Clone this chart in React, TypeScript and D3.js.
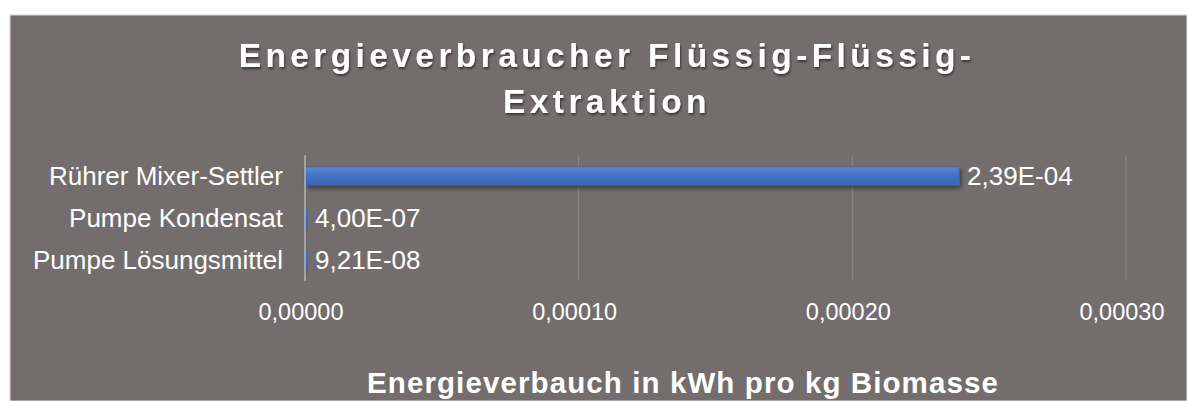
import { useEffect, useRef } from 'react';
import * as d3 from 'd3';

const categories = ['Rührer Mixer-Settler', 'Pumpe Kondensat', 'Pumpe Lösungsmittel'];
const values = [2.39e-4, 4.0e-7, 9.21e-8];
const valueLabels = ['2,39E-04', '4,00E-07', '9,21E-08'];
const tickValues = [0, 0.0001, 0.0002, 0.0003];
const tickLabels = ['0,00000', '0,00010', '0,00020', '0,00030'];
const titleLines = ['Energieverbraucher Flüssig-Flüssig-', 'Extraktion'];
const axisTitle = 'Energieverbauch in kWh pro kg Biomasse';

const W = 1187;
const H = 401;

function App() {
  const svgRef = useRef<SVGSVGElement>(null);

  useEffect(() => {
    const root = d3.select(svgRef.current);
    root.selectAll('*').remove();

    const defs = root.append('defs');
    const grad = defs
      .append('linearGradient')
      .attr('id', 'barGrad')
      .attr('x1', 0)
      .attr('y1', 0)
      .attr('x2', 0)
      .attr('y2', 1);
    grad.append('stop').attr('offset', '0%').attr('stop-color', '#5a86d6');
    grad.append('stop').attr('offset', '50%').attr('stop-color', '#4472c4');
    grad.append('stop').attr('offset', '100%').attr('stop-color', '#3a64b2');

    const shadow = defs
      .append('filter')
      .attr('id', 'barShadow')
      .attr('x', '-5%')
      .attr('y', '-50%')
      .attr('width', '110%')
      .attr('height', '200%');
    shadow
      .append('feDropShadow')
      .attr('dx', 2)
      .attr('dy', 3)
      .attr('stdDeviation', 2)
      .attr('flood-color', '#000')
      .attr('flood-opacity', 0.45);

    const txtShadow = defs.append('filter').attr('id', 'txtShadow');
    txtShadow
      .append('feDropShadow')
      .attr('dx', 1)
      .attr('dy', 2)
      .attr('stdDeviation', 1.2)
      .attr('flood-color', '#000')
      .attr('flood-opacity', 0.5);

    root.append('rect').attr('x', 0).attr('y', 0).attr('width', W).attr('height', H).attr('fill', '#ffffff');
    root
      .append('rect')
      .attr('x', 10)
      .attr('y', 15)
      .attr('width', W - 10)
      .attr('height', H - 15)
      .attr('fill', '#736e6d')
      .attr('stroke', '#d9d9d9')
      .attr('stroke-width', 1);

    const x = d3.scaleLinear().domain([0, 0.0003]).range([305, 1126]);
    const y = d3.scaleBand().domain(categories).range([155, 281]).paddingInner(0.57).paddingOuter(0.285);

    const font = 'Liberation Sans, Arial, sans-serif';

    // title
    titleLines.forEach((line, i) => {
      root
        .append('text')
        .attr('x', 607)
        .attr('y', 67 + i * 46)
        .attr('text-anchor', 'middle')
        .attr('font-family', font)
        .attr('font-weight', 'bold')
        .attr('font-size', 33.5)
        .attr('letter-spacing', 4.4)
        .attr('fill', '#ffffff')
        .attr('filter', 'url(#txtShadow)')
        .text(line);
    });

    // grid lines
    root
      .append('g')
      .selectAll('line')
      .data(tickValues.slice(1))
      .join('line')
      .attr('x1', d => x(d))
      .attr('x2', d => x(d))
      .attr('y1', 155)
      .attr('y2', 281)
      .attr('stroke', '#8c8786')
      .attr('stroke-width', 1);

    // bars
    root
      .append('g')
      .selectAll('rect')
      .data(values)
      .join('rect')
      .attr('x', x(0))
      .attr('y', (_, i) => y(categories[i]) as number)
      .attr('width', d => Math.max(x(d) - x(0), 2))
      .attr('height', y.bandwidth())
      .attr('fill', 'url(#barGrad)')
      .attr('stroke', '#3d68b8')
      .attr('stroke-width', 0.8)
      .attr('filter', 'url(#barShadow)');

    // zero axis line
    root
      .append('line')
      .attr('x1', x(0))
      .attr('x2', x(0))
      .attr('y1', 155)
      .attr('y2', 281)
      .attr('stroke', '#c8c8c8')
      .attr('stroke-width', 1.2);

    // value labels
    values.forEach((v, i) => {
      const cy = (y(categories[i]) as number) + y.bandwidth() / 2;
      root
        .append('text')
        .attr('x', Math.max(x(v), x(0) + 2) + 8)
        .attr('y', cy + 9)
        .attr('font-family', font)
        .attr('font-size', 26)
        .attr('fill', '#ffffff')
        .text(valueLabels[i]);
    });

    // category labels
    categories.forEach(c => {
      const cy = (y(c) as number) + y.bandwidth() / 2;
      root
        .append('text')
        .attr('x', 283)
        .attr('y', cy + 9)
        .attr('text-anchor', 'end')
        .attr('font-family', font)
        .attr('font-size', 26)
        .attr('fill', '#ffffff')
        .text(c);
    });

    // tick labels
    tickValues.forEach((t, i) => {
      root
        .append('text')
        .attr('x', x(t) - 4)
        .attr('y', 320)
        .attr('text-anchor', 'middle')
        .attr('font-family', font)
        .attr('font-size', 23.5)
        .attr('fill', '#ffffff')
        .text(tickLabels[i]);
    });

    // axis title
    root
      .append('text')
      .attr('x', 683)
      .attr('y', 393)
      .attr('text-anchor', 'middle')
      .attr('font-family', 'Liberation Sans Narrow, Arial Narrow, Liberation Sans, sans-serif')
      .attr('font-weight', 'bold')
      .attr('font-size', 29.5)
      .attr('letter-spacing', 1.1)
      .attr('fill', '#ffffff')
      .text(axisTitle);
  }, []);

  return (
    <svg
      ref={svgRef}
      width={W}
      height={H}
      viewBox={`0 0 ${W} ${H}`}
      style={{ position: 'absolute', left: 0, top: 0, display: 'block' }}
    />
  );
}

export default App;
